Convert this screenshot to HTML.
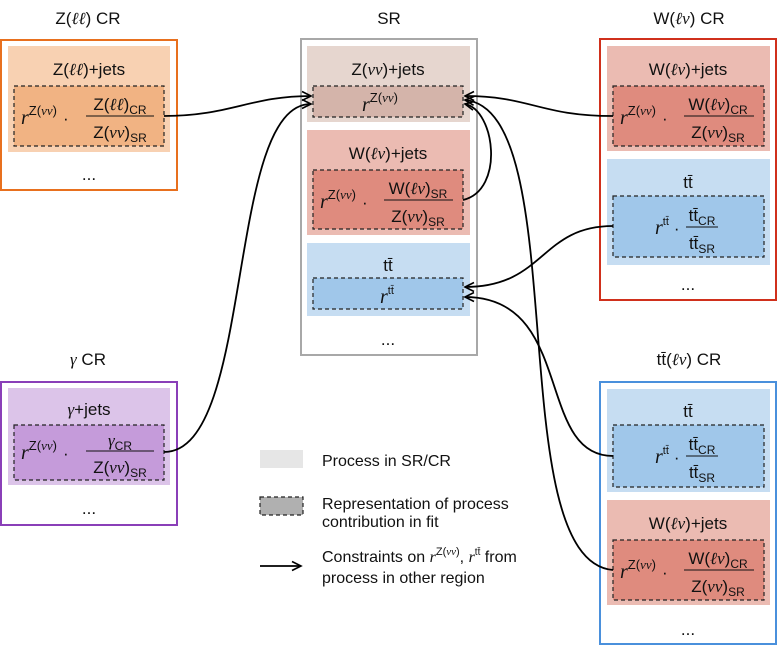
<!DOCTYPE html>
<html><head><meta charset="utf-8"><style>
html,body{margin:0;padding:0;background:#fff;}
svg{display:block;font-family:"Liberation Sans",sans-serif;}
.m{font-family:"Liberation Serif",serif;font-style:italic;}
</style></head><body>
<svg width="777" height="646" viewBox="0 0 777 646" xmlns="http://www.w3.org/2000/svg">
<defs>
<marker id="a" markerWidth="12" markerHeight="12" refX="10" refY="6" orient="auto" markerUnits="userSpaceOnUse">
<path d="M1,1.5 L10,6 L1,10.5" fill="none" stroke="#000" stroke-width="1.6"/>
</marker>
</defs>
<g font-size="17" text-anchor="middle" fill="#111">
<text x="88" y="24">Z(<tspan class="m">ℓℓ</tspan>) CR</text>
<text x="389" y="24">SR</text>
<text x="689" y="24">W(<tspan class="m">ℓν</tspan>) CR</text>
<text x="88" y="365"><tspan class="m">γ</tspan> CR</text>
<text x="689" y="365">tt̄(<tspan class="m">ℓν</tspan>) CR</text>
</g>
<rect x="1" y="40" width="176" height="150" fill="none" stroke="#e8701e" stroke-width="2"/>
<rect x="301" y="39" width="176" height="316" fill="none" stroke="#a8a8a8" stroke-width="2"/>
<rect x="600" y="39" width="176" height="261" fill="none" stroke="#d0301c" stroke-width="2"/>
<rect x="1" y="382" width="176" height="143" fill="none" stroke="#8a3fb8" stroke-width="2"/>
<rect x="600" y="382" width="176" height="262" fill="none" stroke="#4a90dc" stroke-width="2"/>
<rect x="8" y="46" width="162" height="106" fill="#f8d1b2"/>
<rect x="307" y="46" width="163" height="76" fill="#e6d6cf"/>
<rect x="307" y="130" width="163" height="105" fill="#ebbbb2"/>
<rect x="307" y="243" width="163" height="73" fill="#c6ddf2"/>
<rect x="607" y="46" width="163" height="105" fill="#ebbbb2"/>
<rect x="607" y="159" width="163" height="106" fill="#c6ddf2"/>
<rect x="8" y="388" width="162" height="97" fill="#dcc4e9"/>
<rect x="607" y="389" width="163" height="103" fill="#c6ddf2"/>
<rect x="607" y="500" width="163" height="105" fill="#ebbbb2"/>
<g stroke="#222" stroke-width="1.2" stroke-dasharray="4,3">
<rect x="14" y="86" width="150" height="60" fill="#f1b383"/>
<rect x="313" y="86" width="150" height="31" fill="#d4b4aa"/>
<rect x="313" y="170" width="150" height="59" fill="#df8b7e"/>
<rect x="313" y="278" width="150" height="31" fill="#a0c7ea"/>
<rect x="613" y="86" width="151" height="60" fill="#df8b7e"/>
<rect x="613" y="196" width="151" height="61" fill="#a0c7ea"/>
<rect x="14" y="425" width="150" height="55" fill="#c59bda"/>
<rect x="613" y="425" width="151" height="62" fill="#a0c7ea"/>
<rect x="613" y="540" width="151" height="60" fill="#df8b7e"/>
<rect x="260" y="497" width="43" height="18" fill="#b0b0b0"/>
</g>
<rect x="260" y="450" width="43" height="18" fill="#e6e6e6"/>
<g font-size="17" text-anchor="middle" fill="#111">
<text x="89" y="75">Z(<tspan class="m">ℓℓ</tspan>)+jets</text>
<text x="388" y="75">Z(<tspan class="m">νν</tspan>)+jets</text>
<text x="388" y="159">W(<tspan class="m">ℓν</tspan>)+jets</text>
<text x="388" y="271">tt̄</text>
<text x="688" y="75">W(<tspan class="m">ℓν</tspan>)+jets</text>
<text x="688" y="188">tt̄</text>
<text x="89" y="415"><tspan class="m">γ</tspan>+jets</text>
<text x="688" y="417">tt̄</text>
<text x="688" y="529">W(<tspan class="m">ℓν</tspan>)+jets</text>
<text x="89" y="180">...</text>
<text x="388" y="345">...</text>
<text x="688" y="290">...</text>
<text x="89" y="514">...</text>
<text x="688" y="635">...</text>
</g>
<g font-size="20" fill="#111">
<text x="362" y="111"><tspan class="m">r</tspan><tspan font-size="13" dy="-9">Z(<tspan class="m">νν</tspan>)</tspan></text>
<text x="380" y="303"><tspan class="m">r</tspan><tspan font-size="11" dy="-9">tt̄</tspan></text>
</g>
<g fill="#111">
 <text x="21" y="124" font-size="20"><tspan class="m">r</tspan><tspan font-size="13" dy="-9">Z(<tspan class="m">νν</tspan>)</tspan><tspan dy="9" font-size="17" dx="6">·</tspan></text>
 <text x="120" y="110" font-size="17" text-anchor="middle">Z(<tspan class="m">ℓℓ</tspan>)<tspan font-size="12" dy="4">CR</tspan></text>
 <line x1="86" y1="116" x2="154" y2="116" stroke="#111"/>
 <text x="120" y="138" font-size="17" text-anchor="middle">Z(<tspan class="m">νν</tspan>)<tspan font-size="12" dy="4">SR</tspan></text>

 <text x="320" y="208" font-size="20"><tspan class="m">r</tspan><tspan font-size="13" dy="-9">Z(<tspan class="m">νν</tspan>)</tspan><tspan dy="9" font-size="17" dx="6">·</tspan></text>
 <text x="418" y="194" font-size="17" text-anchor="middle">W(<tspan class="m">ℓν</tspan>)<tspan font-size="12" dy="4">SR</tspan></text>
 <line x1="384" y1="200" x2="453" y2="200" stroke="#111"/>
 <text x="418" y="222" font-size="17" text-anchor="middle">Z(<tspan class="m">νν</tspan>)<tspan font-size="12" dy="4">SR</tspan></text>

 <text x="620" y="124" font-size="20"><tspan class="m">r</tspan><tspan font-size="13" dy="-9">Z(<tspan class="m">νν</tspan>)</tspan><tspan dy="9" font-size="17" dx="6">·</tspan></text>
 <text x="718" y="110" font-size="17" text-anchor="middle">W(<tspan class="m">ℓν</tspan>)<tspan font-size="12" dy="4">CR</tspan></text>
 <line x1="684" y1="116" x2="754" y2="116" stroke="#111"/>
 <text x="718" y="138" font-size="17" text-anchor="middle">Z(<tspan class="m">νν</tspan>)<tspan font-size="12" dy="4">SR</tspan></text>

 <text x="655" y="234" font-size="20"><tspan class="m">r</tspan><tspan font-size="11" dy="-9">tt̄</tspan><tspan dy="9" font-size="17" dx="5">·</tspan></text>
 <text x="702" y="221" font-size="17" text-anchor="middle">tt̄<tspan font-size="12" dy="4">CR</tspan></text>
 <line x1="686" y1="227" x2="718" y2="227" stroke="#111"/>
 <text x="702" y="249" font-size="17" text-anchor="middle">tt̄<tspan font-size="12" dy="4">SR</tspan></text>

 <text x="21" y="459" font-size="20"><tspan class="m">r</tspan><tspan font-size="13" dy="-9">Z(<tspan class="m">νν</tspan>)</tspan><tspan dy="9" font-size="17" dx="6">·</tspan></text>
 <text x="120" y="446" font-size="17" text-anchor="middle"><tspan class="m">γ</tspan><tspan font-size="12" dy="4">CR</tspan></text>
 <line x1="86" y1="451" x2="154" y2="451" stroke="#111"/>
 <text x="120" y="473" font-size="17" text-anchor="middle">Z(<tspan class="m">νν</tspan>)<tspan font-size="12" dy="4">SR</tspan></text>

 <text x="655" y="463" font-size="20"><tspan class="m">r</tspan><tspan font-size="11" dy="-9">tt̄</tspan><tspan dy="9" font-size="17" dx="5">·</tspan></text>
 <text x="702" y="450" font-size="17" text-anchor="middle">tt̄<tspan font-size="12" dy="4">CR</tspan></text>
 <line x1="686" y1="456" x2="718" y2="456" stroke="#111"/>
 <text x="702" y="478" font-size="17" text-anchor="middle">tt̄<tspan font-size="12" dy="4">SR</tspan></text>

 <text x="620" y="578" font-size="20"><tspan class="m">r</tspan><tspan font-size="13" dy="-9">Z(<tspan class="m">νν</tspan>)</tspan><tspan dy="9" font-size="17" dx="6">·</tspan></text>
 <text x="718" y="564" font-size="17" text-anchor="middle">W(<tspan class="m">ℓν</tspan>)<tspan font-size="12" dy="4">CR</tspan></text>
 <line x1="684" y1="570" x2="754" y2="570" stroke="#111"/>
 <text x="718" y="592" font-size="17" text-anchor="middle">Z(<tspan class="m">νν</tspan>)<tspan font-size="12" dy="4">SR</tspan></text>
</g>
<g fill="none" stroke="#000" stroke-width="1.8" marker-end="url(#a)">
<path d="M164,116 C230,116 250,96 311,96"/>
<path d="M164,452 C255,452 225,104 311,104"/>
<path d="M463,200 C505,190 495,110 465,104"/>
<path d="M613,116 C540,116 530,96 465,96"/>
<path d="M613,570 C500,560 575,110 465,100"/>
<path d="M613,226 C540,226 545,287 465,287"/>
<path d="M613,456 C535,456 575,297 465,297"/>
<path d="M260,566 L301,566"/>
</g>
<g font-size="16" fill="#111">
<text x="322" y="466">Process in SR/CR</text>
<text x="322" y="509">Representation of process</text>
<text x="322" y="527">contribution in fit</text>
<text x="322" y="562">Constraints on <tspan class="m">r</tspan><tspan font-size="11" dy="-7">Z(<tspan class="m">νν</tspan>)</tspan><tspan dy="7">, </tspan><tspan class="m">r</tspan><tspan font-size="10" dy="-7">tt̄</tspan><tspan dy="7"> from</tspan></text>
<text x="322" y="583">process in other region</text>
</g>
</svg>
</body></html>
